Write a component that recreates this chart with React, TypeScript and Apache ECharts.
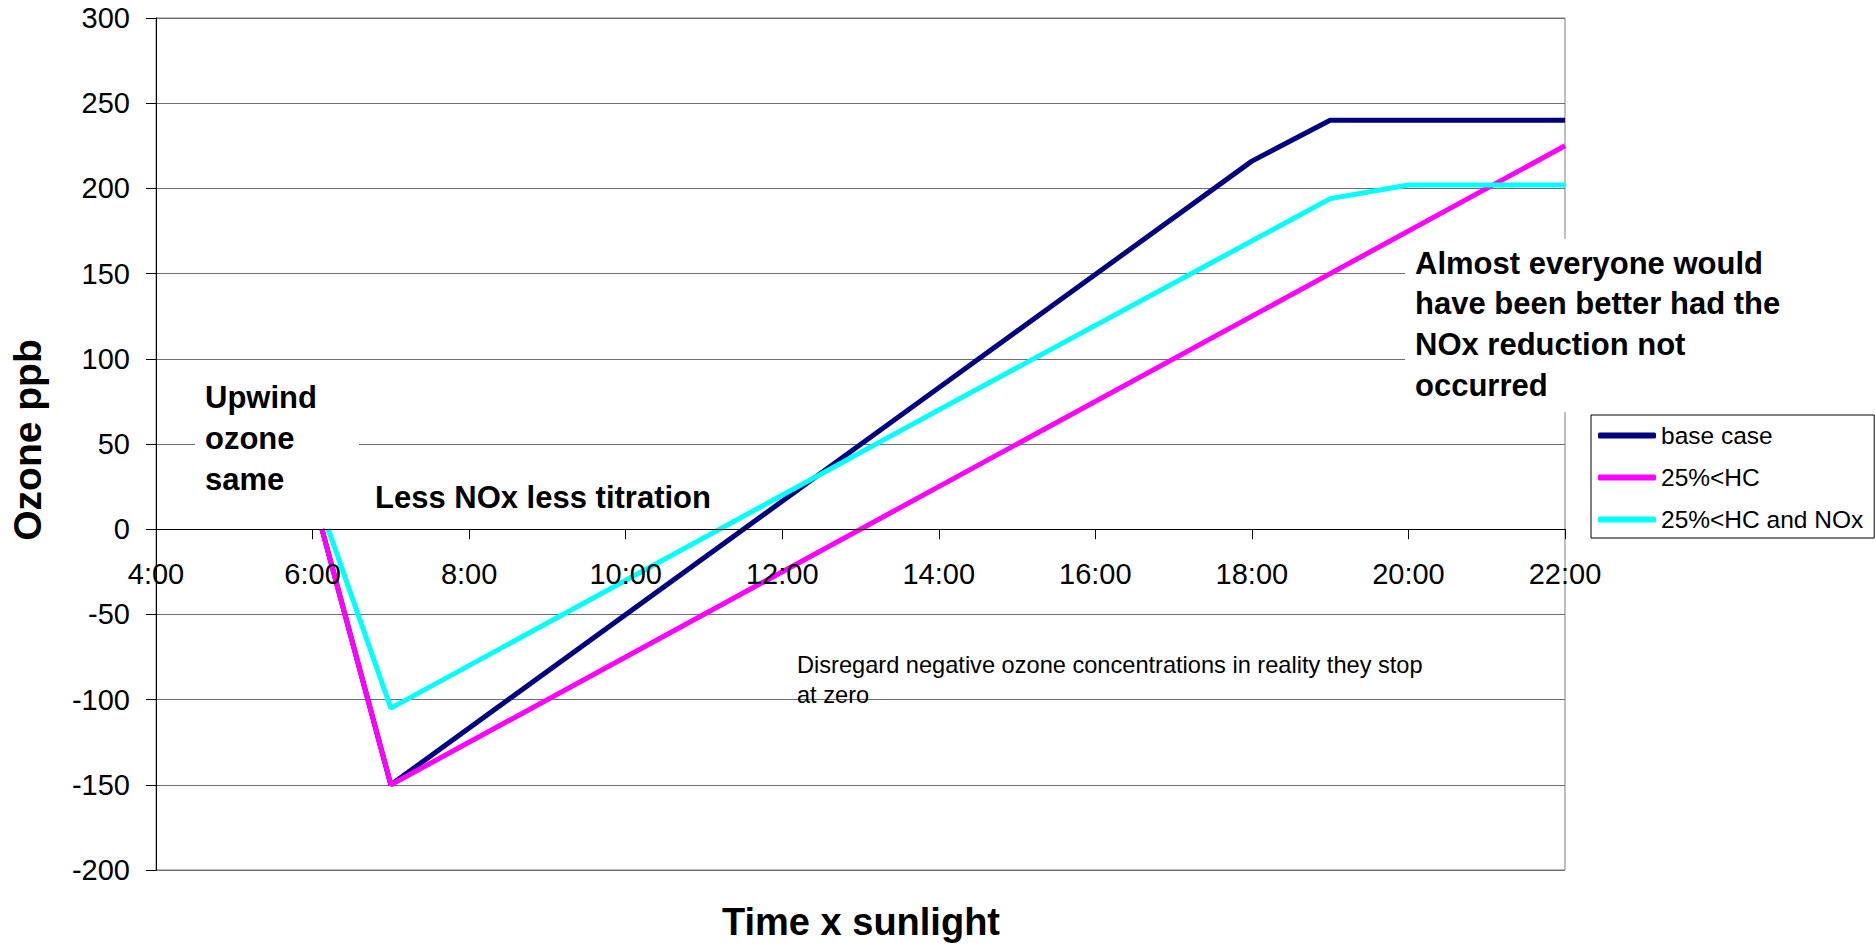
import React, { useEffect, useRef } from "react";
import * as echarts from "echarts";

const FONT = '"Liberation Sans", Arial, Helvetica, sans-serif';

// Time of day in hours (x) and ozone ppb (y), read at the visible vertices
const baseCaseHours = [6.12, 7, 14, 18, 19, 20, 22];
const baseCaseValues = [0, -150, 83, 216, 240, 240, 240];

const hc25Hours = [6.12, 7, 14, 19, 22];
const hc25Values = [0, -150, 25, 150, 225];

const hcNox25Hours = [6.2, 7, 14, 19, 20, 22];
const hcNox25Values = [0, -105, 70, 194, 202, 202];

const seriesNames = ["base case", "25%<HC", "25%<HC and NOx"];
const seriesColors = ["#000080", "#FF00FF", "#00FFFF"];

const xTickHours = [4, 6, 8, 10, 12, 14, 16, 18, 20, 22];
const xTickLabels = ["4:00", "6:00", "8:00", "10:00", "12:00", "14:00", "16:00", "18:00", "20:00", "22:00"];

const yMin = -200;
const yMax = 300;
const yStep = 50;

const upwindText = "Upwind\nozone\nsame";
const titrationText = "Less NOx less titration";
const almostText = "Almost everyone would\nhave been better had the\nNOx reduction not\noccurred";
const disregardText = "Disregard negative ozone concentrations in reality they stop\nat zero";

function pairs(xs: number[], ys: number[]) {
  return xs.map((x, i) => [x, ys[i]]);
}

export default function App() {
  const ref = useRef<HTMLDivElement>(null);

  useEffect(() => {
    if (!ref.current) return;
    const chart = echarts.init(ref.current, undefined, { renderer: "svg" });
    const data = [
      pairs(baseCaseHours, baseCaseValues),
      pairs(hc25Hours, hc25Values),
      pairs(hcNox25Hours, hcNox25Values),
    ];
    const option: any = {
      animation: false,
      backgroundColor: "#ffffff",
      grid: {
        left: 156,
        right: 310,
        top: 18,
        bottom: 75,
        containLabel: false,
        show: true,
        borderColor: "#808080",
        borderWidth: 1,
        backgroundColor: "transparent",
      },
      xAxis: {
        type: "value",
        position: "bottom",
        min: 4,
        max: 22,
        interval: 2,
        offset: 0,
        z: 5,
        axisLine: { show: true, onZero: false, lineStyle: { color: "#000", width: 1 } },
        axisTick: { show: true, length: 10, inside: false, lineStyle: { color: "#000" } },
        splitLine: { show: false },
        axisLabel: {
          show: true,
          margin: 30,
          color: "#000",
          fontSize: 29,
          fontFamily: FONT,
          showMinLabel: true,
          showMaxLabel: true,
          formatter: (v: number) => {
            const i = xTickHours.indexOf(v);
            return i >= 0 ? xTickLabels[i] : "";
          },
        },
      },
      yAxis: {
        type: "value",
        min: yMin,
        max: yMax,
        interval: yStep,
        axisLine: { show: true, onZero: false, lineStyle: { color: "#000", width: 1 } },
        axisTick: { show: true, length: 10, inside: false, lineStyle: { color: "#000" } },
        splitLine: { show: true, lineStyle: { color: "#6e6e6e", width: 1 } },
        axisLabel: {
          show: true,
          margin: 26,
          color: "#000",
          fontSize: 29,
          fontFamily: FONT,
        },
      },
      legend: {
        show: true,
        orient: "vertical",
        left: 1591,
        top: 415,
        icon: "roundRect",
        itemWidth: 58,
        itemHeight: 6,
        itemGap: 17,
        padding: [8, 11, 6, 7],
        backgroundColor: "#ffffff",
        borderColor: "#000000",
        borderWidth: 1,
        borderRadius: 0,
        align: "left",
        selectedMode: false,
        textStyle: { fontSize: 24.5, color: "#000", fontFamily: FONT },
        data: seriesNames,
      },
      series: seriesNames.map((name, i) => ({
        name,
        type: "line",
        data: data[i],
        symbol: "none",
        showSymbol: false,
        z: 2 + i,
        lineStyle: { color: seriesColors[i], width: 5 },
        itemStyle: { color: seriesColors[i] },
        emphasis: { disabled: true },
      })),
      graphic: [
        { type: "rect", z: 1, shape: { x: 195, y: 372, width: 164, height: 130 }, style: { fill: "#ffffff" } },
        { type: "rect", z: 1, shape: { x: 1405, y: 239, width: 385, height: 173 }, style: { fill: "#ffffff" } },
        {
          type: "text", z: 10, x: 205, y: 376.5,
          style: { text: upwindText, fontSize: 31, fontWeight: "bold", fontFamily: FONT, lineHeight: 41, fill: "#000", align: "left", verticalAlign: "top" },
        },
        {
          type: "text", z: 10, x: 375, y: 497,
          style: { text: titrationText, fontSize: 31, fontWeight: "bold", fontFamily: FONT, fill: "#000", align: "left", verticalAlign: "middle" },
        },
        {
          type: "text", z: 10, x: 1415, y: 243,
          style: { text: almostText, fontSize: 31, fontWeight: "bold", fontFamily: FONT, lineHeight: 40.6, fill: "#000", align: "left", verticalAlign: "top" },
        },
        {
          type: "text", z: 10, x: 797, y: 650,
          style: { text: disregardText, fontSize: 23.6, fontFamily: FONT, lineHeight: 30, fill: "#000", align: "left", verticalAlign: "top" },
        },
        {
          type: "text", z: 10, x: 861, y: 922,
          style: { text: "Time x sunlight", fontSize: 38, fontWeight: "bold", fontFamily: FONT, fill: "#000", align: "center", verticalAlign: "middle" },
        },
        {
          type: "text", z: 10, x: 27, y: 440, rotation: Math.PI / 2,
          style: { text: "Ozone ppb", fontSize: 39, fontWeight: "bold", fontFamily: FONT, fill: "#000", align: "center", verticalAlign: "middle" },
        },
      ],
    };
    chart.setOption(option);
    // Move the category axis up so that it crosses the value axis at zero
    const zeroY = chart.convertToPixel({ yAxisIndex: 0 }, 0) as number;
    const bottomY = chart.convertToPixel({ yAxisIndex: 0 }, yMin) as number;
    if (isFinite(zeroY) && isFinite(bottomY)) {
      chart.setOption({ xAxis: { offset: zeroY - bottomY } });
    }
    return () => {
      chart.dispose();
    };
  }, []);

  return (
    <div
      ref={ref}
      style={{ position: "fixed", left: 0, top: 0, width: 1875, height: 945, background: "#fff" }}
    />
  );
}
